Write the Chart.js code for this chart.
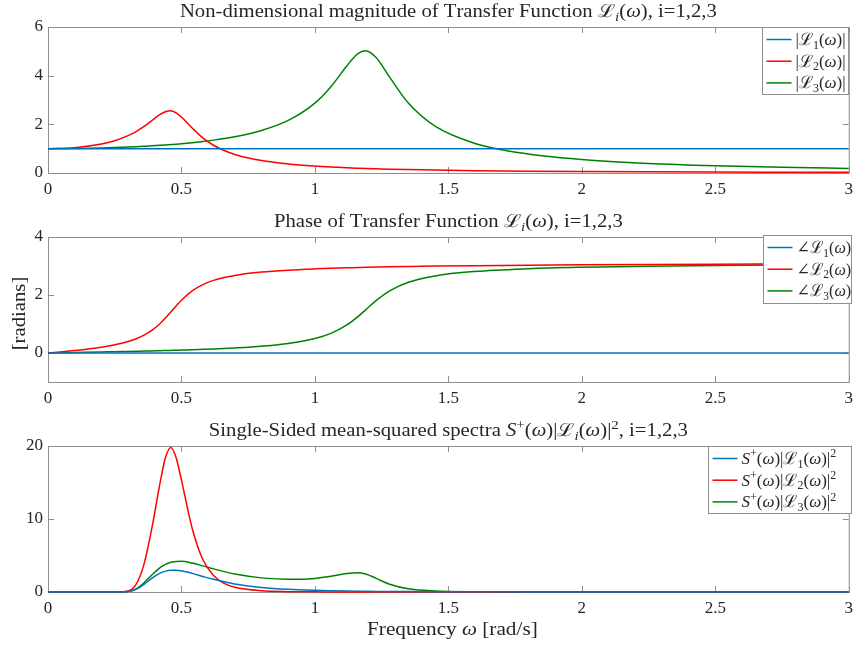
<!DOCTYPE html>
<html>
<head>
<meta charset="utf-8">
<script src="https://cdn.jsdelivr.net/npm/chart.js@4.4.1/dist/chart.umd.min.js"></script>
<style>
    body { margin: 0; background: #fff; }
    .panel { position: absolute; left: 0; width: 859px; }
</style>
</head>
<body>
<div class="panel" style="top:0;height:205px"><canvas id="chart-mag"></canvas></div>
<div class="panel" style="top:205px;height:200px"><canvas id="chart-phase"></canvas></div>
<div class="panel" style="top:405px;height:242px"><canvas id="chart-spec"></canvas></div>
<script>
// Frequency grid (rad/s) shared by all three panels
const W = [0, 0.1, 0.2, 0.25, 0.3, 0.33, 0.36, 0.39, 0.42, 0.44, 0.46, 0.48, 0.5, 0.54, 0.58, 0.62, 0.66, 0.7, 0.8, 0.9,
    1.0, 1.06, 1.12, 1.16, 1.19, 1.23, 1.28, 1.35, 1.45, 1.6, 1.8, 2.0, 2.25, 2.5, 2.75, 3.0];

// |L_i(w)|
const MAG1 = [1, 1, 1, 1, 1, 1, 1, 1, 1, 1, 1, 1, 1, 1, 1, 1, 1, 1, 1, 1, 1, 1, 1, 1, 1, 1, 1, 1, 1, 1, 1, 1, 1, 1, 1, 1];
const MAG2 = [1, 1.042, 1.191, 1.328, 1.534, 1.703, 1.914, 2.162, 2.406, 2.520, 2.560, 2.470, 2.300, 1.850, 1.444, 1.141,
    0.923, 0.762, 0.511, 0.371, 0.283, 0.245, 0.215, 0.198, 0.186, 0.173, 0.157, 0.140, 0.119, 0.096, 0.074, 0.060, 0.047,
    0.037, 0.031, 0.026];
const MAG3 = [1, 1.007, 1.028, 1.044, 1.065, 1.080, 1.097, 1.115, 1.136, 1.151, 1.168, 1.185, 1.204, 1.246, 1.295, 1.351,
    1.416, 1.493, 1.750, 2.162, 2.873, 3.547, 4.408, 4.898, 5.024, 4.736, 3.938, 2.873, 1.924, 1.216, 0.778, 0.553, 0.393,
    0.297, 0.234, 0.190];

// phase of L_i(w) [rad]
const PH1 = [0, 0, 0, 0, 0, 0, 0, 0, 0, 0, 0, 0, 0, 0, 0, 0, 0, 0, 0, 0, 0, 0, 0, 0, 0, 0, 0, 0, 0, 0, 0, 0, 0, 0, 0, 0];
const PH2 = [0, 0.088, 0.202, 0.283, 0.398, 0.493, 0.619, 0.789, 1.018, 1.205, 1.412, 1.623, 1.822, 2.142, 2.359, 2.503,
    2.603, 2.676, 2.790, 2.857, 2.901, 2.921, 2.938, 2.947, 2.954, 2.962, 2.971, 2.982, 2.996, 3.012, 3.029, 3.041, 3.053,
    3.063, 3.070, 3.077];
const PH3 = [0, 0.017, 0.034, 0.044, 0.053, 0.059, 0.066, 0.073, 0.080, 0.085, 0.090, 0.095, 0.101, 0.112, 0.126, 0.140,
    0.156, 0.175, 0.236, 0.330, 0.499, 0.677, 0.967, 1.244, 1.487, 1.813, 2.144, 2.439, 2.658, 2.811, 2.906, 2.956, 2.994,
    3.018, 3.034, 3.047];

// S+(w)|L_i(w)|^2
const SP1 = [0, 0, 0, 0, 0.053, 0.358, 1.051, 1.906, 2.588, 2.861, 2.986, 2.987, 2.896, 2.553, 2.134, 1.735, 1.391, 1.108,
    0.632, 0.371, 0.226, 0.171, 0.131, 0.111, 0.098, 0.083, 0.068, 0.053, 0.037, 0.023, 0.013, 0.007, 0.004, 0.002, 0.002, 0.001];
const SP2 = [0, 0, 0, 0, 0.125, 1.04, 3.85, 8.91, 14.98, 18.4, 19.8, 18.4, 15.32, 8.74, 4.45, 2.26, 1.18, 0.644,
    0.165, 0.051, 0.018, 0.010, 0.006, 0.004, 0.003, 0.002, 0.002, 0.001, 0, 0, 0, 0, 0, 0, 0, 0];
const SP3 = [0, 0, 0, 0, 0.060, 0.418, 1.264, 2.370, 3.339, 3.791, 4.070, 4.195, 4.198, 3.963, 3.577, 3.165, 2.789, 2.469,
    1.935, 1.733, 1.865, 2.151, 2.548, 2.651, 2.464, 1.864, 1.059, 0.434, 0.137, 0.034, 0.008, 0.002, 0, 0, 0, 0];

// tick values
const X_TICKS = [0, 0.5, 1, 1.5, 2, 2.5, 3];
const MAG_TICKS = [0, 2, 4, 6];
const PH_TICKS = [0, 2, 4];
const SP_TICKS = [0, 10, 20];

// text (markup: _ subscript, ^ superscript, * italic for next char)
const MAG_LABELS = ['|ℒ_1(*ω)|', '|ℒ_2(*ω)|', '|ℒ_3(*ω)|'];
const PH_LABELS = ['∠ℒ_1(*ω)', '∠ℒ_2(*ω)', '∠ℒ_3(*ω)'];
const SP_LABELS = ['*S^+(*ω)|ℒ_1(*ω)|^2', '*S^+(*ω)|ℒ_2(*ω)|^2', '*S^+(*ω)|ℒ_3(*ω)|^2'];
const TITLES = [
    'Non-dimensional magnitude of Transfer Function ℒ_*i(*ω), i=1,2,3',
    'Phase of Transfer Function ℒ_*i(*ω), i=1,2,3',
    'Single-Sided mean-squared spectra *S^+(*ω)|ℒ_*i(*ω)|^2, i=1,2,3'
];

const COLORS = ['#0072BD', '#FF0000', '#008000'];
const SERIF = "'Liberation Serif', 'DejaVu Serif', serif";
const TEXT = '#262626';
const AXIS = '#8f8f8f';
const TICK = 6;

// Split markup into single characters with sub/sup/italic flags
function parseRich(s) {
    const out = [];
    let mode = 0, it = false;
    for (const ch of s) {
        if (ch === '_') { mode = 1; continue; }
        if (ch === '^') { mode = 2; continue; }
        if (ch === '*') { it = true; continue; }
        out.push({ ch, mode, it });
        mode = 0; it = false;
    }
    return out;
}

// sx stretches the text horizontally (Times is narrower than the LaTeX font)
function drawRich(ctx, s, x, y, size, align, sx = 1) {
    const parts = parseRich(s);
    const fontOf = p => (p.it ? 'italic ' : '') + (p.mode ? Math.round(size * 0.7) : size) + 'px ' + SERIF;
    let w = 0;
    parts.forEach(p => { ctx.font = fontOf(p); w += ctx.measureText(p.ch).width; });
    const start = align === 'center' ? x - w * sx / 2 : align === 'right' ? x - w * sx : x;
    ctx.save();
    ctx.translate(start, y);
    ctx.scale(sx, 1);
    ctx.fillStyle = TEXT;
    ctx.textBaseline = 'alphabetic';
    ctx.textAlign = 'left';
    let cx = 0;
    parts.forEach(p => {
        ctx.font = fontOf(p);
        const dy = p.mode === 1 ? size * 0.22 : p.mode === 2 ? -size * 0.4 : 0;
        ctx.fillText(p.ch, cx, dy);
        cx += ctx.measureText(p.ch).width;
    });
    ctx.restore();
    return w * sx;
}

// Box, inward ticks on all four sides, titles, legend (MATLAB look)
const panelDeco = {
    id: 'panelDeco',
    beforeDatasetsDraw(chart) {
        const { ctx, chartArea: a, scales: { x, y } } = chart;
        ctx.save();
        ctx.strokeStyle = AXIS;
        ctx.lineWidth = 1;
        ctx.strokeRect(a.left + 0.5, a.top + 0.5, a.right - a.left, a.bottom - a.top);
        ctx.beginPath();
        x.ticks.forEach(t => {
            const px = Math.round(x.getPixelForValue(t.value)) + 0.5;
            ctx.moveTo(px, a.bottom); ctx.lineTo(px, a.bottom - TICK);
            ctx.moveTo(px, a.top); ctx.lineTo(px, a.top + TICK);
        });
        y.ticks.forEach(t => {
            const py = Math.round(y.getPixelForValue(t.value)) + 0.5;
            ctx.moveTo(a.left, py); ctx.lineTo(a.left + TICK, py);
            ctx.moveTo(a.right, py); ctx.lineTo(a.right - TICK, py);
        });
        ctx.stroke();
        ctx.restore();
    },
    afterDraw(chart, args, opts) {
        const { ctx, chartArea: a } = chart;
        const cx = (a.left + a.right) / 2;
        ctx.save();
        drawRich(ctx, opts.title, cx, a.top - 10, 18, 'center', 1.15);
        if (opts.xLabel) drawRich(ctx, opts.xLabel, cx + 4, a.bottom + 43, 18, 'center', 1.18);
        if (opts.yLabel) {
            ctx.save();
            ctx.translate(19, (a.top + a.bottom) / 2 + 4);
            ctx.rotate(-Math.PI / 2);
            drawRich(ctx, opts.yLabel, 0, 6, 18, 'center', 1.15);
            ctx.restore();
        }

        // legend
        const lg = opts.legend;
        ctx.fillStyle = '#fff';
        ctx.fillRect(lg.x, lg.y, lg.w, lg.h);
        ctx.strokeStyle = AXIS;
        ctx.lineWidth = 1;
        ctx.strokeRect(lg.x + 0.5, lg.y + 0.5, lg.w, lg.h);
        chart.data.datasets.forEach((ds, i) => {
            const ry = lg.y + 12.5 + i * 21.7;
            ctx.strokeStyle = ds.borderColor;
            ctx.lineWidth = 1.5;
            ctx.beginPath();
            ctx.moveTo(lg.x + 4.5, ry);
            ctx.lineTo(lg.x + 29.5, ry);
            ctx.stroke();
            drawRich(ctx, ds.label, lg.x + 33.5, ry + 5.5, 17, 'left', lg.sx || 1);
        });
        ctx.restore();
    }
};

function makePanel(canvasId, series, labels, yMin, yMax, yTicks, pad, deco) {
    const datasets = series.map((arr, i) => ({
        label: labels[i],
        data: W.map((w, k) => ({ x: w, y: arr[k] })),
        borderColor: COLORS[i],
        borderWidth: 1.5,
        pointRadius: 0,
        cubicInterpolationMode: 'monotone',
        clip: false
    }));
    const tickFont = { family: SERIF, size: 17 };

    return new Chart(document.getElementById(canvasId), {
        type: 'line',
        data: { datasets },
        plugins: [panelDeco],
        options: {
            responsive: true,
            maintainAspectRatio: false,
            animation: false,
            events: [],
            layout: { padding: pad },
            scales: {
                x: {
                    type: 'linear',
                    min: 0,
                    max: 3,
                    afterBuildTicks: s => { s.ticks = X_TICKS.map(v => ({ value: v })); },
                    afterFit: s => { s.height = 22; },
                    grid: { display: false, drawTicks: false },
                    border: { display: false },
                    ticks: { font: tickFont, color: TEXT, padding: 6, maxRotation: 0, autoSkip: false, callback: v => String(v) }
                },
                y: {
                    min: yMin,
                    max: yMax,
                    afterBuildTicks: s => { s.ticks = yTicks.map(v => ({ value: v })); },
                    afterFit: s => { s.width = 40; },
                    grid: { display: false, drawTicks: false },
                    border: { display: false },
                    ticks: { font: tickFont, color: TEXT, padding: 5, autoSkip: false, callback: v => String(v) }
                }
            },
            plugins: {
                legend: { display: false },
                tooltip: { enabled: false },
                panelDeco: deco
            }
        }
    });
}

makePanel('chart-mag', [MAG1, MAG2, MAG3], MAG_LABELS, 0, 6, MAG_TICKS,
    { left: 8, right: 7, top: 27, bottom: 10 },
    { title: TITLES[0], legend: { x: 762, y: 27, w: 86, h: 67 } });

makePanel('chart-phase', [PH1, PH2, PH3], PH_LABELS, -1, 4, PH_TICKS,
    { left: 8, right: 7, top: 32, bottom: 1 },
    { title: TITLES[1], yLabel: '[radians]', legend: { x: 763, y: 30, w: 88, h: 68, sx: 0.95 } });

makePanel('chart-spec', [SP1, SP2, SP3], SP_LABELS, 0, 20, SP_TICKS,
    { left: 8, right: 7, top: 41, bottom: 33 },
    { title: TITLES[2], xLabel: 'Frequency *ω [rad/s]', legend: { x: 708, y: 41, w: 143, h: 67 } });
</script>
</body>
</html>
